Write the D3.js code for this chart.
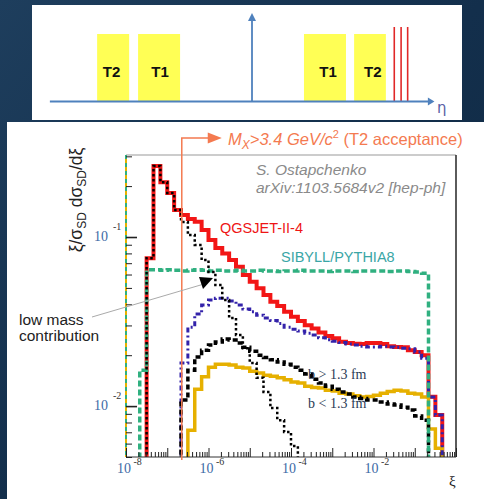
<!DOCTYPE html>
<html><head><meta charset="utf-8">
<script src="https://cdn.jsdelivr.net/npm/d3@7"></script>
<style>html,body{margin:0;padding:0;background:#13304d;} svg{display:block}</style>
</head><body><svg id="c" width="484" height="499"></svg>
<script>
// ---------------- DATA ----------------
// histogram binning in log10(xi): first bin left edge and bins per decade
const binStartLog10 = -7.6667;
const binsPerDecade = 6;
const nBins = 44;

// SIBYLL/PYTHIA8 (green dashed)
const sibyllFirstBin = 0;
const sibyllValues = [0.0163, 0.064, 0.064, 0.0635, 0.064, 0.0635, 0.063, 0.0635, 0.064, 0.0635,
  0.063, 0.0635, 0.063, 0.063, 0.0635, 0.063, 0.063, 0.0635, 0.063, 0.063,
  0.0625, 0.063, 0.063, 0.0635, 0.063, 0.063, 0.063, 0.0625, 0.063, 0.063,
  0.063, 0.0625, 0.063, 0.063, 0.063, 0.063, 0.0625, 0.063, 0.063, 0.0625,
  0.062, 0.061];
// QGSJET-II-4 total (red)
const qgsFirstBin = 1;
const qgsValues = [0.075, 0.263, 0.211, 0.182, 0.1445, 0.135, 0.128, 0.123, 0.110, 0.096,
  0.086, 0.080, 0.073, 0.0667, 0.0596, 0.0544, 0.0497, 0.0454, 0.0414, 0.0391,
  0.0361, 0.0338, 0.0319, 0.0301, 0.0288, 0.0272, 0.026, 0.0252, 0.024, 0.0236,
  0.0234, 0.0233, 0.0236, 0.0236, 0.0233, 0.0226, 0.0224, 0.0223, 0.0214, 0.0209,
  0.0200, 0.01135, 0.00885];
// QGSJET high mass part (blue dash-dot)
const highMassFirstBin = 6;
const highMassValues = [0.0180, 0.0293, 0.035, 0.0396, 0.0424, 0.0435, 0.0435, 0.0418, 0.0396, 0.0375,
  0.0361, 0.0345, 0.0332, 0.0321, 0.0308, 0.0293, 0.0285, 0.0278, 0.0270, 0.0263,
  0.0254, 0.0247, 0.0242, 0.0238, 0.0233, 0.0230, 0.0226, 0.0224, 0.0224, 0.0226,
  0.0224, 0.0223, 0.0220, 0.0218, 0.0209, 0.0192, 0.0113, 0.00885];
// b > 1.3 fm (black dashed)
const bLargeFirstBin = 6;
const bLargeValues = [0.01086, 0.0163, 0.0195, 0.0214, 0.0230, 0.0239, 0.0249, 0.0246, 0.0236, 0.0223,
  0.0211, 0.0200, 0.0194, 0.0188, 0.0182, 0.0177, 0.0170, 0.0163, 0.0155, 0.0144,
  0.0137, 0.0131, 0.0126, 0.0121, 0.0118, 0.0113, 0.0111, 0.01086, 0.01086, 0.01057,
  0.01028, 0.01014, 0.00986, 0.00947, 0.00873, 0.00826];
// b < 1.3 fm (yellow)
const bSmallFirstBin = 7;
const bSmallValues = [0.0072, 0.0126, 0.0149, 0.0170, 0.0177, 0.0177, 0.0175, 0.0170, 0.0168, 0.0161,
  0.0157, 0.0152, 0.0150, 0.0147, 0.0143, 0.0139, 0.0137, 0.0131, 0.0129, 0.0128,
  0.0124, 0.0123, 0.0119, 0.0118, 0.0115, 0.0113, 0.0114, 0.0116, 0.0119, 0.0122,
  0.0124, 0.0123, 0.0119, 0.0118, 0.0113, 0.00731, 0.00563];
// low mass contribution (black dotted)
const lowMassFirstBin = 1;
const lowMassValues = [0.075, 0.263, 0.211, 0.182, 0.1445, 0.1227, 0.1027, 0.0897, 0.0731, 0.0621,
  0.0520, 0.0424, 0.0332, 0.0263, 0.0220, 0.0180, 0.0147, 0.0121, 0.00973, 0.00826,
  0.00702, 0.00580, 0.0045];

const xiCut = 2.25e-7;               // M_X > 3.4 GeV/c^2
const xTickDecades = [-8, -6, -4, -2];
const yTickDecades = [-1, -2];

// eta schematic (top panel)
const etaDetectors = [
  {name: "T2", from: -5.9, to: -4.68, label: -5.35},
  {name: "T1", from: -4.34, to: -2.74, label: -3.5},
  {name: "T1", from: 1.98, to: 3.58, label: 2.9},
  {name: "T2", from: 3.89, to: 5.10, label: 4.6}
];
const etaRedLines = [5.42, 5.68, 5.93];

// ---------------- DRAW ----------------
const W = 484, H = 499;
const svg = d3.select("#c");
const defs = svg.append("defs");
const g = defs.append("linearGradient").attr("id", "bg").attr("x1", 0).attr("y1", 0).attr("x2", 1).attr("y2", 1);
g.append("stop").attr("offset", "0").attr("stop-color", "#1e3e5d");
g.append("stop").attr("offset", "0.5").attr("stop-color", "#132f4c");
g.append("stop").attr("offset", "1").attr("stop-color", "#0f2840");
svg.append("rect").attr("width", W).attr("height", H).attr("fill", "url(#bg)");

// top panel
svg.append("rect").attr("x", 32).attr("y", 5).attr("width", 430).attr("height", 115).attr("fill", "#fff");
const eta = d3.scaleLinear().domain([-8, 8]).range([42, 462]);
const etaBlue = "#4f81bd";
svg.selectAll("rect.det").data(etaDetectors).join("rect").attr("class", "det")
  .attr("x", d => eta(d.from)).attr("width", d => eta(d.to) - eta(d.from))
  .attr("y", 34).attr("height", 67).attr("fill", "#ffff55");
svg.selectAll("text.det").data(etaDetectors).join("text").attr("class", "det")
  .attr("x", d => eta(d.label)).attr("y", 77).attr("text-anchor", "middle")
  .attr("font-family", "Liberation Sans, Arial, sans-serif").attr("font-weight", "bold")
  .attr("font-size", 15).attr("fill", "#111").text(d => d.name);
svg.selectAll("line.red").data(etaRedLines).join("line").attr("class", "red")
  .attr("x1", d => eta(d)).attr("x2", d => eta(d)).attr("y1", 27).attr("y2", 101.5)
  .attr("stroke", "#e02828").attr("stroke-width", 1.6);
// eta axis
svg.append("line").attr("x1", eta(-7.7)).attr("x2", eta(6.75)).attr("y1", 101.5).attr("y2", 101.5)
  .attr("stroke", etaBlue).attr("stroke-width", 1.8);
svg.append("path").attr("d", `M${eta(6.95)},101.5 L${eta(6.7)},97.5 L${eta(6.7)},105.5 Z`).attr("fill", etaBlue);
svg.append("line").attr("x1", eta(0)).attr("x2", eta(0)).attr("y1", 101.5).attr("y2", 19)
  .attr("stroke", etaBlue).attr("stroke-width", 1.8);
svg.append("path").attr("d", `M${eta(0)},13 L${eta(0) - 4},21 L${eta(0) + 4},21 Z`).attr("fill", etaBlue);
svg.append("text").attr("x", 437).attr("y", 113).attr("font-family", "DejaVu Sans, sans-serif")
  .attr("font-size", 15).attr("fill", "#5b5fa6").text("η");

// bottom panel
svg.append("rect").attr("x", 7).attr("y", 122).attr("width", 477).attr("height", 377).attr("fill", "#fff");

const L = 126, R = 456, T = 155, B = 457;
const x = d3.scaleLog().domain([1e-8, 1]).range([L, R]);
const y = d3.scaleLog().domain([0.005, 0.3055]).range([B, T]);
defs.append("clipPath").attr("id", "plotclip").append("rect")
  .attr("x", L).attr("y", T).attr("width", R - L).attr("height", B - T);

const edges = d3.range(nBins + 1).map(k => Math.pow(10, binStartLog10 + k / binsPerDecade));
const yFloor = 0.003;
function histPts(first, vals) {
  const p = [[edges[first], yFloor]];
  vals.forEach((v, j) => { p.push([edges[first + j], v]); p.push([edges[first + j + 1], v]); });
  p.push([edges[first + vals.length], yFloor]);
  return p;
}
const line = d3.line().x(d => x(d[0])).y(d => y(d[1]));
const plot = svg.append("g").attr("clip-path", "url(#plotclip)");
function drawHist(first, vals, color, width, dash) {
  plot.append("path").attr("d", line(histPts(first, vals))).attr("fill", "none")
    .attr("stroke", color).attr("stroke-width", width).attr("stroke-dasharray", dash || null)
    .attr("stroke-linejoin", "miter");
}
drawHist(qgsFirstBin, qgsValues, "#f21616", 4);
drawHist(bSmallFirstBin, bSmallValues, "#e6b000", 3.5);
drawHist(highMassFirstBin, highMassValues, "#3322aa", 3, "5,3,2,3");
drawHist(bLargeFirstBin, bLargeValues, "#000", 3.5, "5,3");
drawHist(sibyllFirstBin, sibyllValues, "#30b080", 3.5, "6,3");
drawHist(lowMassFirstBin, lowMassValues, "#000", 2.5, "2.5,2.5");

// frame
svg.append("line").attr("x1", L).attr("x2", R).attr("y1", T).attr("y2", T).attr("stroke", "#999").attr("stroke-width", 1);
svg.append("line").attr("x1", R).attr("x2", R).attr("y1", T).attr("y2", B).attr("stroke", "#333").attr("stroke-width", 1.6);
svg.append("line").attr("x1", L).attr("x2", R).attr("y1", B).attr("y2", B).attr("stroke", "#333").attr("stroke-width", 1);
svg.append("line").attr("x1", L).attr("x2", L).attr("y1", T).attr("y2", B).attr("stroke", "#e6b000").attr("stroke-width", 2);
svg.append("line").attr("x1", L).attr("x2", L).attr("y1", T).attr("y2", B).attr("stroke", "#30b080").attr("stroke-width", 2).attr("stroke-dasharray", "4,4");

// ticks
const yMajor = yTickDecades.map(e => Math.pow(10, e));
const yMinor = [];
[-3, -2, -1].forEach(e => d3.range(2, 10).forEach(m => { const v = m * Math.pow(10, e); if (v >= 0.005 && v <= 0.3055) yMinor.push(v); }));
const xMajor = d3.range(-8, 1).map(e => Math.pow(10, e));
const xMinor = [];
d3.range(-8, 0).forEach(e => d3.range(2, 10).forEach(m => xMinor.push(m * Math.pow(10, e))));
function tickAxis(axis, tr, w) {
  const gA = svg.append("g").attr("transform", tr).call(axis);
  gA.select(".domain").remove();
  gA.selectAll("line").attr("stroke", "#222").attr("stroke-width", w);
  gA.selectAll("text").remove();
}
tickAxis(d3.axisLeft(y).tickValues(yMinor).tickSize(-6).tickFormat(""), `translate(${L},0)`, 1);
tickAxis(d3.axisLeft(y).tickValues(yMajor).tickSize(-11).tickFormat(""), `translate(${L},0)`, 1.6);
tickAxis(d3.axisBottom(x).tickValues(xMinor).tickSize(-5).tickFormat(""), `translate(0,${B})`, 1);
tickAxis(d3.axisBottom(x).tickValues(xMajor).tickSize(-9).tickFormat(""), `translate(0,${B})`, 1);

// tick labels
xTickDecades.forEach(e => {
  const px = x(Math.pow(10, e));
  svg.append("text").attr("x", px - 9).attr("y", 473).attr("font-family", "Liberation Serif, Times New Roman, serif")
    .attr("font-size", 14).attr("fill", "#3d6aa5").text("10");
  svg.append("text").attr("x", px + 7.5).attr("y", 465).attr("font-family", "Liberation Serif, Times New Roman, serif")
    .attr("font-size", 10).attr("fill", "#333").text("-" + (-e));
});
yTickDecades.forEach(e => {
  const py = y(Math.pow(10, e));
  svg.append("text").attr("x", 108).attr("y", py + 4).attr("text-anchor", "end").attr("font-family", "Liberation Serif, Times New Roman, serif")
    .attr("font-size", 14).attr("fill", "#3d6aa5").text("10");
  svg.append("text").attr("x", 113).attr("y", py - 7).attr("font-family", "Liberation Serif, Times New Roman, serif")
    .attr("font-size", 10).attr("fill", "#333").text("-" + (-e));
});

// axis titles
const yl = svg.append("text").attr("transform", "translate(82,200) rotate(-90)").attr("text-anchor", "middle")
  .attr("font-family", "Liberation Sans, Arial, sans-serif").attr("font-size", 17.5).attr("fill", "#222");
yl.append("tspan").text("ξ/σ");
yl.append("tspan").attr("dy", 4).attr("font-size", 12).text("SD");
yl.append("tspan").attr("dy", -4).text(" dσ");
yl.append("tspan").attr("dy", 4).attr("font-size", 12).text("SD");
yl.append("tspan").attr("dy", -4).text("/dξ");
svg.append("text").attr("x", 449).attr("y", 486).attr("font-family", "Liberation Serif, Times New Roman, serif")
  .attr("font-size", 15).attr("fill", "#222").text("ξ");

// acceptance arrow
const orange = "#f47a50";
const xc = x(xiCut);
svg.append("path").attr("d", `M${xc},${B + 3} L${xc},138 L${xc + 28},138`).attr("fill", "none")
  .attr("stroke", orange).attr("stroke-width", 1.5);
svg.append("path").attr("d", `M${xc + 40},138 L${xc + 26},132.5 L${xc + 26},143.5 Z`).attr("fill", orange);
const at = svg.append("text").attr("x", 228).attr("y", 145).attr("font-family", "Liberation Sans, Arial, sans-serif")
  .attr("font-size", 16.5).attr("fill", orange);
at.append("tspan").attr("font-style", "italic").text("M");
at.append("tspan").attr("font-style", "italic").attr("font-size", 12).attr("dy", 4).text("X");
at.append("tspan").attr("font-style", "italic").attr("dy", -4).text(">3.4 GeV/c");
at.append("tspan").attr("font-size", 11).attr("dy", -7).text("2");
at.append("tspan").attr("dy", 7).text(" (T2 acceptance)");

// annotations
svg.append("text").attr("x", 256).attr("y", 175).attr("font-family", "Liberation Sans, Arial, sans-serif")
  .attr("font-style", "italic").attr("font-size", 15.5).attr("fill", "#8a8a8a").text("S. Ostapchenko");
svg.append("text").attr("x", 256).attr("y", 193).attr("font-family", "Liberation Sans, Arial, sans-serif")
  .attr("font-style", "italic").attr("font-size", 15.5).attr("fill", "#8a8a8a").text("arXiv:1103.5684v2 [hep-ph]");
svg.append("text").attr("x", 220).attr("y", 233).attr("font-family", "Liberation Sans, Arial, sans-serif")
  .attr("font-size", 14.5).attr("fill", "#ee1515").text("QGSJET-II-4");
svg.append("text").attr("x", 281).attr("y", 262).attr("font-family", "Liberation Sans, Arial, sans-serif")
  .attr("font-size", 14.5).attr("fill", "#3aa6a6").text("SIBYLL/PYTHIA8");
svg.append("text").attr("x", 19).attr("y", 325).attr("font-family", "Liberation Sans, Arial, sans-serif")
  .attr("font-size", 15.5).attr("fill", "#222").text("low mass");
svg.append("text").attr("x", 19).attr("y", 341).attr("font-family", "Liberation Sans, Arial, sans-serif")
  .attr("font-size", 15.5).attr("fill", "#222").text("contribution");
svg.append("line").attr("x1", 92).attr("y1", 317).attr("x2", 204).attr("y2", 284).attr("stroke", "#aaa").attr("stroke-width", 1);
svg.append("path").attr("d", "M213,278 L199,277 L203,289 Z").attr("fill", "#000");
svg.append("text").attr("x", 308).attr("y", 379).attr("font-family", "Liberation Serif, Times New Roman, serif")
  .attr("font-size", 14).attr("fill", "#2b3a55").text("b > 1.3 fm");
svg.append("text").attr("x", 308).attr("y", 408).attr("font-family", "Liberation Serif, Times New Roman, serif")
  .attr("font-size", 14).attr("fill", "#2b3a55").text("b < 1.3 fm");
</script>
</body></html>
